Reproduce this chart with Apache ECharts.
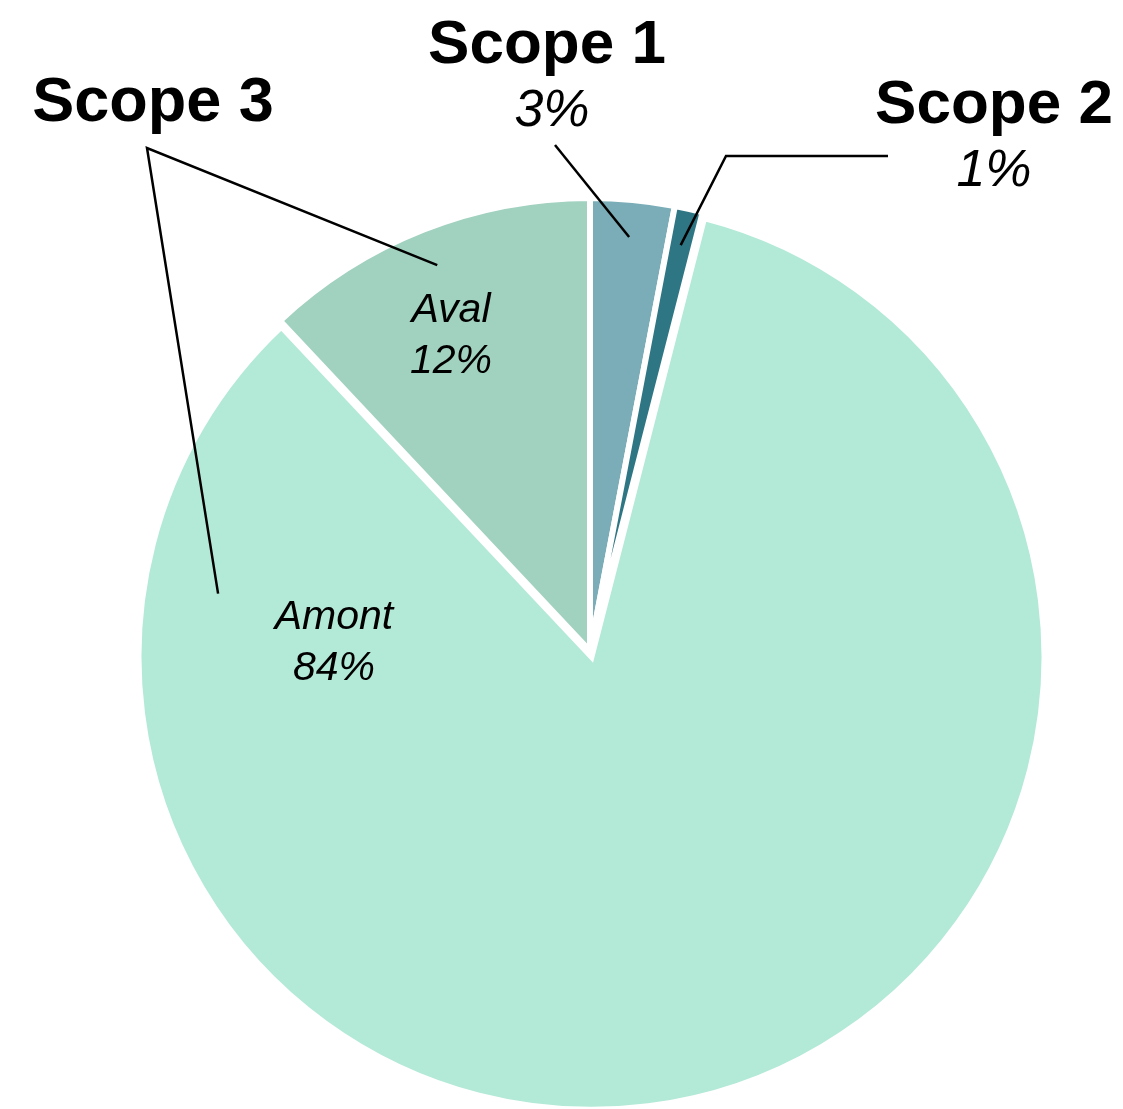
<!DOCTYPE html>
<html>
<head>
<meta charset="utf-8">
<title>Répartition des émissions par scope</title>
<script src="https://cdn.jsdelivr.net/npm/echarts@6/dist/echarts.min.js"></script>
<style>
  html, body { margin: 0; padding: 0; background: #ffffff; }
  #chart { width: 1123px; height: 1109px; }
</style>
</head>
<body>
<div id="chart"></div>
<script>
// Emission shares (%) per slice, clockwise from 12 o'clock
const categories = ['Scope 1', 'Scope 2', 'Amont', 'Aval'];
const shares = [3, 1, 84, 12];
const sliceColors = ['#7aadb7', '#2f7684', '#b3e9d7', '#a1d1bf'];
// Scope 3 groups the upstream (Amont) and downstream (Aval) slices
const groupTitle = 'Scope 3';
const groupMembers = ['Aval', 'Amont'];
const outerLabels = ['Scope 1', 'Scope 2'];
const pulledOut = 'Amont';

const FONT = "'Liberation Sans', Arial, Helvetica, sans-serif";
const CX = 590, CY = 651, R = 453, PULL = 6;

// Label block centres (px)
const labelPos = {
  'Scope 1': [547, 79],
  'Scope 2': [994, 139],
  'Aval': [451, 336],
  'Amont': [334, 643]
};
// Where each leader line touches its slice: [fraction of slice sweep, fraction of radius]
const leaderAnchor = {
  'Scope 1': [0.5, 0.918],
  'Scope 2': [0.5, 0.918],
  'Aval': [0.5, 0.916],
  'Amont': [0.877, 0.836]
};

// Slice start/end angles (degrees clockwise from top) derived from the shares
const total = shares.reduce((a, b) => a + b, 0);
const sliceAngles = {};
let acc = 0;
categories.forEach((c, i) => {
  const a0 = acc / total * 360;
  acc += shares[i];
  sliceAngles[c] = [a0, acc / total * 360];
});

function polar(cx, cy, angleDeg, r) {
  const t = angleDeg * Math.PI / 180;
  return [cx + r * Math.sin(t), cy - r * Math.cos(t)];
}
// Centre of a slice, including the pull-out offset of the detached slice
function sliceCentre(name) {
  if (name !== pulledOut) return [CX, CY];
  const [a0, a1] = sliceAngles[name];
  return polar(CX, CY, (a0 + a1) / 2, PULL);
}
function anchorOf(name) {
  const [f, rf] = leaderAnchor[name];
  const [a0, a1] = sliceAngles[name];
  const [cx, cy] = sliceCentre(name);
  return polar(cx, cy, a0 + (a1 - a0) * f, R * rf);
}

const lineStyle = { stroke: '#000', lineWidth: 2.5, fill: null };
const overlay = [
  { type: 'polyline', z: 100, shape: { points: [[555, 145], anchorOf('Scope 1')] }, style: lineStyle, silent: true },
  { type: 'polyline', z: 100, shape: { points: [[888, 156], [726, 156], anchorOf('Scope 2')] }, style: lineStyle, silent: true },
  { type: 'polyline', z: 100, shape: { points: [anchorOf(groupMembers[0]), [147, 148], anchorOf(groupMembers[1])] }, style: lineStyle, silent: true },
  {
    type: 'text', z: 100, silent: true,
    style: { x: 153, y: 104, text: groupTitle, font: 'bold 63px ' + FONT, fill: '#000', align: 'center', verticalAlign: 'middle' }
  }
];

// Visible slices (the upstream slice is pulled slightly out)
const sliceData = categories.map((c, i) => ({
  name: c,
  value: shares[i],
  selected: c === pulledOut,
  itemStyle: { color: sliceColors[i] }
}));

// Same shares, transparent, carrying the labels
const labelData = categories.map((c, i) => {
  const outer = outerLabels.includes(c);
  return {
    name: c,
    value: shares[i],
    label: {
      rich: outer ? {
        name: { fontFamily: FONT, fontWeight: 'bold', fontSize: 62, lineHeight: 66, color: '#000' },
        pct: { fontFamily: FONT, fontStyle: 'italic', fontSize: 52, lineHeight: 66, color: '#000',
               padding: c === 'Scope 1' ? [0, 0, 0, 10] : 0 }
      } : {
        name: { fontFamily: FONT, fontStyle: 'italic', fontSize: 41, lineHeight: 51, color: '#000' },
        pct: { fontFamily: FONT, fontStyle: 'italic', fontSize: 41, lineHeight: 51, color: '#000' }
      }
    }
  };
});

const chart = echarts.init(document.getElementById('chart'), null, { renderer: 'canvas' });
chart.setOption({
  animation: false,
  backgroundColor: '#ffffff',
  series: [{
    type: 'pie',
    center: [CX, CY],
    radius: R,
    startAngle: 90,
    clockwise: true,
    selectedMode: 'single',
    selectedOffset: PULL,
    silent: true,
    itemStyle: { borderColor: '#ffffff', borderWidth: 6, borderJoin: 'miter' },
    label: { show: false },
    labelLine: { show: false },
    data: sliceData
  }, {
    type: 'pie',
    center: [CX, CY],
    radius: R,
    startAngle: 90,
    clockwise: true,
    avoidLabelOverlap: false,
    silent: true,
    z: 5,
    itemStyle: { color: 'rgba(0,0,0,0)', borderWidth: 0 },
    label: {
      show: true,
      position: 'outside',
      align: 'center',
      formatter: p => `{name|${p.name}}\n{pct|${p.value}%}`
    },
    labelLine: { show: false },
    labelLayout: p => {
      const pos = labelPos[categories[p.dataIndex]];
      return { x: pos[0], y: pos[1], align: 'center', verticalAlign: 'middle' };
    },
    data: labelData
  }],
  graphic: overlay
});
</script>
</body>
</html>
